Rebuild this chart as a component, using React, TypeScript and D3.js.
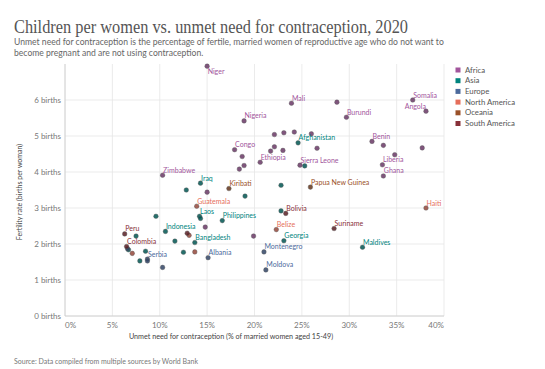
import React from "react";
import * as d3 from "d3";

const countries = ["Niger","Mali","","Burundi","Nigeria","Somalia","Angola","Benin","","","","Liberia","Ghana","","","","","","Congo","","","","","Ethiopia","","","Sierra Leone","Zimbabwe","","","",
"Afghanistan","","Iraq","","","","Laos","","Philippines","","Georgia","Bangladesh","","Maldives","","","Indonesia","","","","",
"Albania","Montenegro","Moldova","Serbia","","","",
"Guatemala","Belize","Haiti","","","",
"Kiribati","Papua New Guinea",
"Peru","Colombia","Bolivia","Suriname",""];
const unmet = [15.0,23.9,28.7,29.7,18.9,36.7,38.1,32.4,33.6,34.8,37.7,33.5,33.6,22.1,23.1,24.2,26.0,26.6,17.9,22.1,21.7,23.0,18.7,20.6,18.9,18.4,24.8,10.3,15.0,14.8,19.9,
24.6,25.3,14.3,12.8,22.8,19.0,14.2,14.3,16.6,22.8,23.1,13.7,12.5,31.4,9.6,7.5,10.6,11.6,8.5,7.9,6.7,
15.1,21.0,21.2,8.7,8.7,10.3,6.6,
13.9,22.3,38.1,13.7,7.1,13.1,
17.3,25.9,
6.3,6.5,23.3,28.4,12.9];
const fertility = [6.94,5.91,5.94,5.52,5.42,6.0,5.69,4.85,4.74,4.48,4.67,4.2,3.89,5.04,5.09,5.11,5.06,4.66,4.62,4.7,4.58,4.6,4.43,4.27,4.18,4.08,4.19,3.91,3.44,2.47,2.22,
4.81,4.17,3.69,3.5,3.63,3.33,2.77,2.71,2.65,2.92,2.09,2.04,1.77,1.91,2.77,2.22,2.35,2.08,1.8,1.53,1.84,
1.62,1.78,1.28,1.58,1.53,1.35,1.87,
3.05,2.4,3.0,1.78,1.74,2.24,
3.54,3.58,
2.28,1.93,2.85,2.43,2.3];
const regionOf = [
  ...Array(31).fill("Africa"),
  ...Array(21).fill("Asia"),
  ...Array(7).fill("Europe"),
  ...Array(6).fill("North America"),
  ...Array(2).fill("Oceania"),
  ...Array(5).fill("South America"),
];
const regions = ["Africa","Asia","Europe","North America","Oceania","South America"];
const regionColors = ["#a2559c","#00847e","#4c6a9c","#e56e5a","#9a5129","#883039"];
const xTicks = [0,5,10,15,20,25,30,35,40];
const yTicks = [0,1,2,3,4,5,6];
const labelBelow = ["Niger"];
const labelEnd = ["Angola"];

export default function App() {
  const x = d3.scaleLinear().domain([0, 40]).range([65, 444]);
  const y = d3.scaleLinear().domain([0, 7]).range([316, 64]);
  const color = d3.scaleOrdinal<string, string>().domain(regions).range(regionColors);
  const sans = "Lato, 'Noto Sans', sans-serif";
  const pts = countries.map((c, i) => ({ c, x: unmet[i], y: fertility[i], r: regionOf[i] }));
  return (
    <svg width={545} height={369} style={{ position: "absolute", left: 0, top: 0, background: "#fff" }}>
      <text x={14} y={33} fontFamily="'Liberation Serif', serif" fontSize={18} fill="#555" textLength={394} lengthAdjust="spacingAndGlyphs">Children per women vs. unmet need for contraception, 2020</text>
      <text x={14} y={44.5} fontFamily={sans} fontSize={8.6} fill="#666">Unmet need for contraception is the percentage of fertile, married women of reproductive age who do not want to</text>
      <text x={14} y={56} fontFamily={sans} fontSize={8.6} fill="#666">become pregnant and are not using contraception.</text>
      {yTicks.map(t => (
        <g key={"y" + t}>
          <line x1={65} x2={444} y1={y(t)} y2={y(t)} stroke="#e6e6e6" strokeWidth={0.8} />
          <text x={61} y={y(t) + 2.8} textAnchor="end" fontFamily={sans} fontSize={8} fill="#777">{t} births</text>
        </g>
      ))}
      {xTicks.map((t, i) => (
        <g key={"x" + t}>
          <line x1={x(t)} x2={x(t)} y1={64} y2={316} stroke="#e6e6e6" strokeWidth={0.8} />
          <text x={x(t)} y={328} textAnchor={i === 0 ? "start" : i === xTicks.length - 1 ? "end" : "middle"} fontFamily={sans} fontSize={8} fill="#777">{t}%</text>
        </g>
      ))}
      <line x1={65} x2={444} y1={316} y2={316} stroke="#ccc" strokeWidth={0.8} />
      <line x1={65} x2={65} y1={64} y2={316} stroke="#ccc" strokeWidth={0.8} />
      <text x={231} y={339} textAnchor="middle" fontFamily={sans} fontSize={7.2} fill="#444">Unmet need for contraception (% of married women aged 15-49)</text>
      <text transform={`translate(22,192) rotate(-90)`} textAnchor="middle" fontFamily={sans} fontSize={7} fill="#444">Fertility rate (births per woman)</text>
      {pts.map((p, i) => (
        <circle key={"p" + i} cx={x(p.x)} cy={y(p.y)} r={2.3} fill={d3.color(color(p.r))!.darker(1.2).formatHex()} fillOpacity={0.85} stroke="#555" strokeWidth={0.4} />
      ))}
      {pts.filter(p => p.c).map((p, i) => {
        const below = labelBelow.includes(p.c);
        const end = labelEnd.includes(p.c);
        return (
          <text key={"l" + i} x={x(p.x) + (end ? 0 : 0.5)} y={y(p.y) + (below ? 7.5 : -2.5)} textAnchor={end ? "end" : "start"} fontFamily={sans} fontSize={7} fill={color(p.r)}>{p.c}</text>
        );
      })}
      {regions.map((r, i) => (
        <g key={"lg" + r}>
          <rect x={455.5} y={67.5 + i * 10.7} width={5} height={5} fill={color(r)} />
          <text x={465} y={72.5 + i * 10.7} fontFamily={sans} fontSize={7.8} fill="#555">{r}</text>
        </g>
      ))}
      <text x={14} y={364} fontFamily={sans} fontSize={7} fill="#777">Source: Data compiled from multiple sources by World Bank</text>
    </svg>
  );
}
